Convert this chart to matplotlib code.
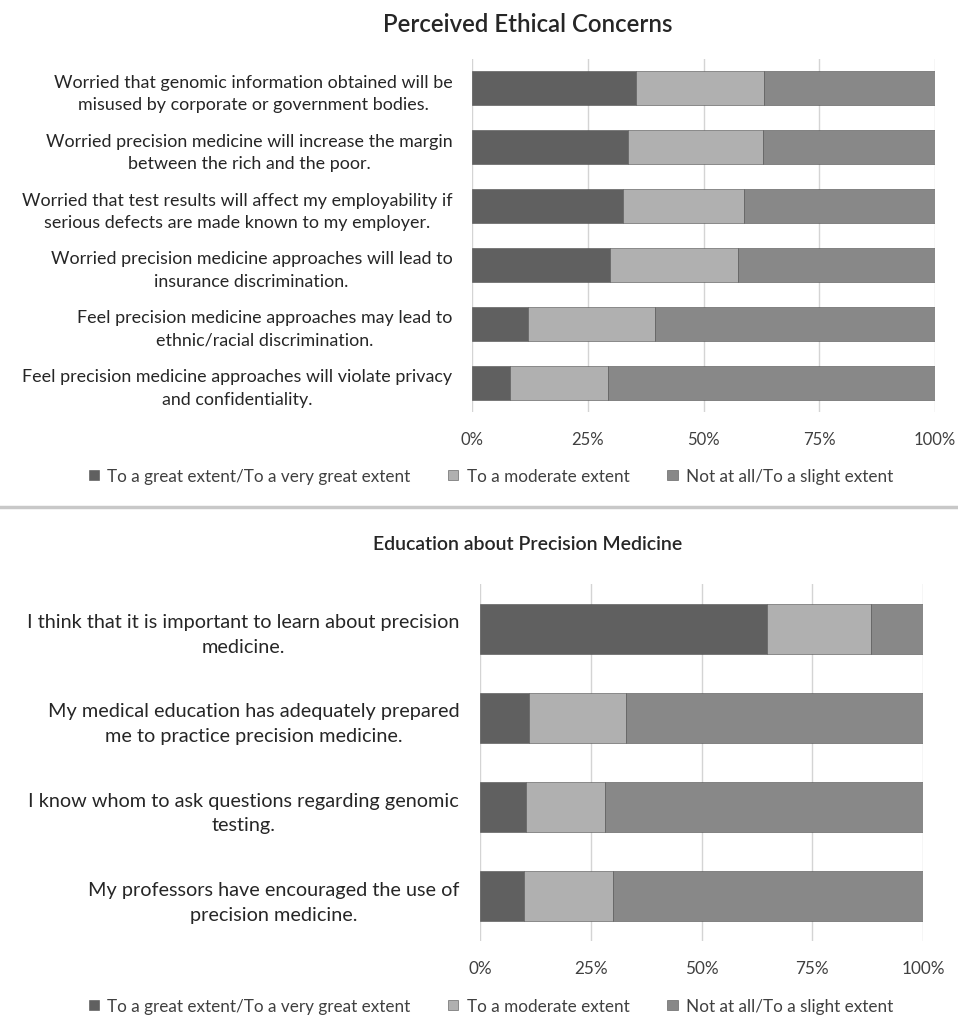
import matplotlib
matplotlib.use("Agg")
import matplotlib.pyplot as plt
from matplotlib.patches import Patch
from matplotlib.lines import Line2D
from matplotlib.ticker import PercentFormatter

plt.rcParams['font.family'] = ['Lato', 'DejaVu Sans']

# ---- data ----
series_names = ["To a great extent/To a very great extent",
                "To a moderate extent",
                "Not at all/To a slight extent"]
colors = ["#606060", "#b0b0b0", "#888888"]

ethics_labels = [
    "Worried that genomic information obtained will be\nmisused by corporate or government bodies.",
    "Worried precision medicine will increase the margin\nbetween the rich and the poor.",
    "Worried that test results will affect my employability if\nserious defects are made known to my employer.",
    "Worried precision medicine approaches will lead to\ninsurance discrimination.",
    "Feel precision medicine approaches may lead to\nethnic/racial discrimination.",
    "Feel precision medicine approaches will violate privacy\nand confidentiality.",
]
ethics_great = [35.4, 33.7, 32.7, 29.9, 12.0, 8.3]
ethics_moderate = [27.7, 29.2, 26.1, 27.5, 27.6, 21.0]
ethics_slight = [36.9, 37.1, 41.2, 42.6, 60.4, 70.7]

edu_labels = [
    "I think that it is important to learn about precision\nmedicine.",
    "My medical education has adequately prepared\nme to practice precision medicine.",
    "I know whom to ask questions regarding genomic\ntesting.",
    "My professors have encouraged the use of\nprecision medicine.",
]
edu_great = [64.8, 11.1, 10.4, 9.9]
edu_moderate = [23.4, 21.9, 17.9, 20.2]
edu_slight = [11.8, 67.0, 71.7, 69.9]

ticks = [0, 25, 50, 75, 100]

W, H = 958, 1020
fig = plt.figure(figsize=(W / 100, H / 100), dpi=100)


def panel(rect, labels, vals, height, title, title_y, title_size,
          label_size, label_pad, line_sp, legend_y, legend_size, tick_size):
    ax = fig.add_axes(rect)
    n = len(labels)
    pos = list(range(n))
    left = [0] * n
    for v, c, name in zip(vals, colors, series_names):
        ax.barh(pos, v, left=left, height=height, color=c,
                edgecolor="#505050", linewidth=0.4, label=name, zorder=3)
        left = [a + b for a, b in zip(left, v)]
    ax.set_xlim(0, 100)
    ax.set_ylim(n - 0.5, -0.5)
    ax.set_xticks(ticks)
    ax.xaxis.set_major_formatter(PercentFormatter(decimals=0))
    ax.set_yticks(pos)
    ax.set_yticklabels(labels)
    for t in ax.get_yticklabels():
        t.set_multialignment('center')
        t.set_color("#262626")
        t.set_fontsize(label_size)
        t.set_linespacing(line_sp)
    ax.tick_params(axis='y', length=0, pad=label_pad)
    ax.tick_params(axis='x', length=0, pad=14, labelsize=tick_size, labelcolor="#404040")
    for s in ax.spines.values():
        s.set_visible(False)
    ax.grid(axis='x', color="#d4d4d4", linewidth=1.0, zorder=0)
    ax.set_axisbelow(True)
    fig.text(528 / W, 1 - title_y / H, title, ha='center', va='center',
             fontsize=title_size, fontweight='semibold', color="#262626")
    handles = [Patch(facecolor=c, edgecolor="#505050", linewidth=0.4) for c in colors]
    fig.legend(handles, series_names, loc='center', ncol=3, frameon=False,
               bbox_to_anchor=(491 / W, 1 - legend_y / H),
               handlelength=0.6, handleheight=0.6, handletextpad=0.5,
               columnspacing=2.2, fontsize=legend_size, labelcolor="#404040")
    return ax


panel([472 / W, 1 - 413 / H, 463 / W, 353 / H], ethics_labels,
      [ethics_great, ethics_moderate, ethics_slight], 0.58,
      "Perceived Ethical Concerns", 25, 17.3, 12.9, 14, 1.5, 477, 12.3, 12)
panel([480 / W, 1 - 942 / H, 443 / W, 357 / H], edu_labels,
      [edu_great, edu_moderate, edu_slight], 0.56,
      "Education about Precision Medicine", 545, 14, 14.3, 15, 1.55, 1007, 12.3, 12.3)

fig.add_artist(Line2D([0, 1], [1 - 508 / H, 1 - 508 / H], transform=fig.transFigure,
                      color="#c8c8c8", linewidth=2.5))

fig.savefig("out.png", dpi=100, facecolor="white")
